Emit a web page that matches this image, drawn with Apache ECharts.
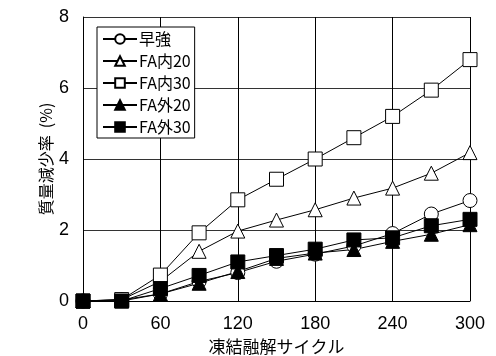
<!DOCTYPE html>
<html><head><meta charset="utf-8">
<script src="https://cdn.jsdelivr.net/npm/echarts@6/dist/echarts.min.js"></script>
<style>html,body{margin:0;padding:0;background:#fff}#c{width:496px;height:356px}</style>
</head><body><div id="c"></div>
<script>
const cycles = [0, 30, 60, 90, 120, 150, 180, 210, 240, 270, 300];
const seriesNames = ['早強', 'FA内20', 'FA内30', 'FA外20', 'FA外30'];
const soukyou = [0, 0.03, 0.2, 0.55, 0.8, 1.12, 1.32, 1.55, 1.9, 2.45, 2.83];
const faIn20 = [0, 0.04, 0.55, 1.4, 1.97, 2.28, 2.57, 2.9, 3.18, 3.6, 4.18];
const faIn30 = [0, 0.04, 0.73, 1.92, 2.85, 3.43, 4.0, 4.6, 5.2, 5.94, 6.8];
const faOut20 = [0, 0, 0.2, 0.5, 0.83, 1.2, 1.35, 1.45, 1.68, 1.88, 2.15];
const faOut30 = [0, 0, 0.35, 0.72, 1.1, 1.28, 1.46, 1.72, 1.78, 2.12, 2.3];
const xTicks = [0, 60, 120, 180, 240, 300];
const yTicks = [0, 2, 4, 6, 8];

const chart = echarts.init(document.getElementById('c'));
const numFont = '"Liberation Sans Narrow", "Liberation Sans", sans-serif';
const jpFont = '"Noto Sans CJK JP", sans-serif';
const styles = [
  {symbol: 'circle', fill: '#fff'},
  {symbol: 'triangle', fill: '#fff'},
  {symbol: 'rect', fill: '#fff'},
  {symbol: 'triangle', fill: '#000'},
  {symbol: 'rect', fill: '#000'}
];
const values = [soukyou, faIn20, faIn30, faOut20, faOut30];
const series = seriesNames.map((n, i) => ({
  name: n,
  type: 'line',
  data: cycles.map((c, j) => [c, values[i][j]]),
  symbol: styles[i].symbol,
  symbolSize: 14,
  showAllSymbol: true,
  lineStyle: {color: '#000', width: 1},
  itemStyle: {color: styles[i].fill, borderColor: '#000', borderWidth: 1},
  emphasis: {disabled: true},
  animation: false
}));

chart.setOption({
  animation: false,
  grid: {left: 83, top: 17, right: 26, bottom: 55, containLabel: false, outerBoundsMode: 'none'},
  legend: {
    orient: 'vertical', left: 97, top: 27,
    backgroundColor: '#fff', borderColor: '#000', borderWidth: 1,
    padding: [4, 4, 3, 5],
    itemWidth: 34, itemHeight: 12, itemGap: 6,
    textStyle: {fontFamily: jpFont, fontSize: 16, lineHeight: 16, color: '#000', padding: [0, 0, 0, -3]},
    data: seriesNames
  },
  xAxis: {
    type: 'value', min: xTicks[0], max: xTicks[xTicks.length - 1], interval: 60,
    name: '凍結融解サイクル', nameLocation: 'middle', nameGap: 37, nameMoveOverlap: false,
    nameTextStyle: {fontFamily: jpFont, fontSize: 17, color: '#000'},
    axisLine: {lineStyle: {color: '#000', width: 1}},
    axisTick: {show: false},
    axisLabel: {fontFamily: numFont, fontSize: 18, color: '#000', margin: 14},
    splitLine: {show: true, lineStyle: {color: '#000', width: 1}}
  },
  yAxis: {
    type: 'value', min: yTicks[0], max: yTicks[yTicks.length - 1], interval: 2,
    name: '質量減少率  (%)', nameLocation: 'middle', nameGap: 29, nameRotate: 90, nameMoveOverlap: false,
    nameTextStyle: {fontFamily: jpFont, fontSize: 16, color: '#000'},
    axisLine: {show: true, lineStyle: {color: '#000', width: 1}},
    axisTick: {show: false},
    axisLabel: {fontFamily: numFont, fontSize: 18, color: '#000', margin: 14},
    splitLine: {show: true, lineStyle: {color: '#333', width: 1}}
  },
  series: series
});
</script></body></html>
